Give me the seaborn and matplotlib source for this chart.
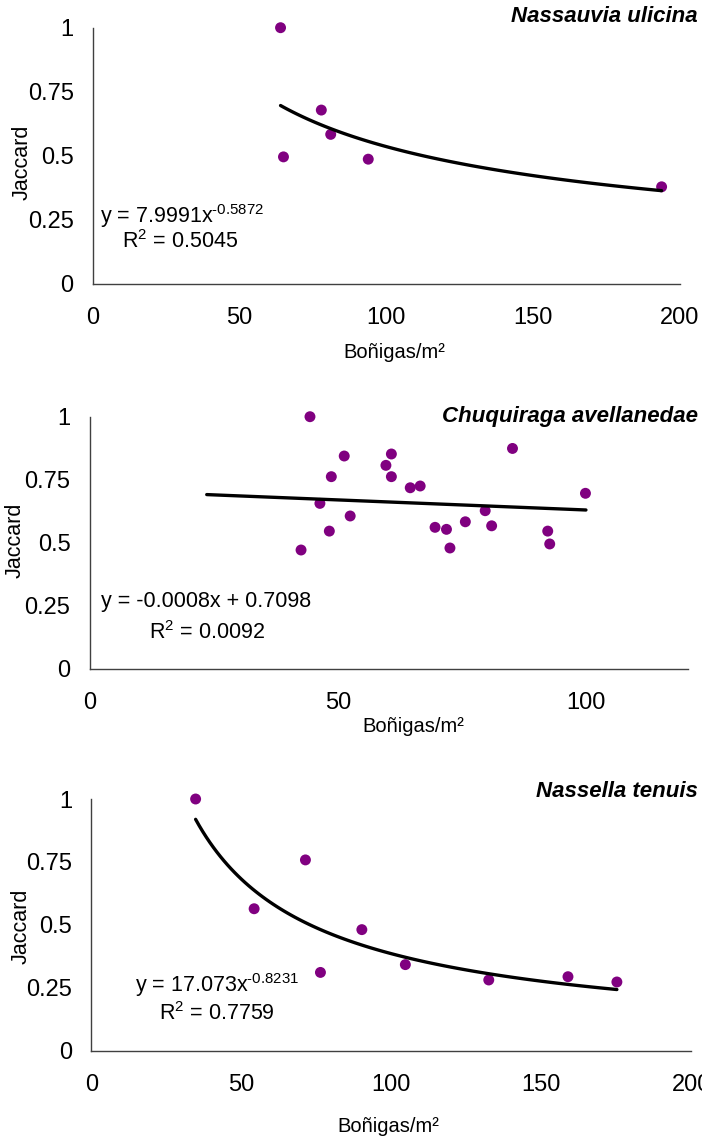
import numpy as np
import matplotlib
matplotlib.use('Agg')
import matplotlib.pyplot as plt
import seaborn as sns

# ---------------- data ----------------
# Nassauvia ulicina
nu_x = [64.0, 65.0, 77.9, 81.1, 93.9, 193.9]
nu_y = [1.0, 0.495, 0.678, 0.583, 0.486, 0.378]
nu_coef = (7.9991, -0.5872)      # power trendline y = a * x^b
nu_eq = ['y = 7.9991x$^{\u20100.5872}$', 'R$^2$ = 0.5045']

# Chuquiraga avellanedae
ca_x = [44.4, 42.6, 46.4, 48.3, 48.7, 51.3, 52.5, 59.7, 60.8, 60.8, 64.6,
        66.6, 69.6, 71.9, 72.6, 75.7, 79.7, 81.0, 85.2, 92.3, 92.7, 99.9]
ca_y = [1.0, 0.471, 0.656, 0.546, 0.762, 0.844, 0.606, 0.807, 0.852, 0.762, 0.718,
        0.725, 0.561, 0.553, 0.479, 0.583, 0.627, 0.567, 0.874, 0.546, 0.495, 0.696]
ca_coef = (-0.0008, 0.7098)      # linear trendline y = m * x + c
ca_fit_range = (23.6, 100.0)     # excel trendline incl. backward forecast
ca_eq = ['y = -0.0008x + 0.7098', 'R$^2$ = 0.0092']

# Nassella tenuis
nt_x = [34.8, 54.3, 71.4, 76.4, 90.2, 104.7, 132.5, 158.9, 175.2]
nt_y = [1.0, 0.564, 0.758, 0.311, 0.481, 0.342, 0.281, 0.294, 0.273]
nt_coef = (17.073, -0.8231)
nt_eq = ['y = 17.073x$^{\u20100.8231}$', 'R$^2$ = 0.7759']

titles = ['Nassauvia ulicina', 'Chuquiraga avellanedae', 'Nassella tenuis']
y_ticks = [0, 0.25, 0.5, 0.75, 1]
y_ticklabels = ['0', '0.25', '0.5', '0.75', '1']
x_label = 'Boñigas/m²'
y_label = 'Jaccard'

# ---------------- style ----------------
sns.set_style('white')
plt.rcParams['font.family'] = ['Liberation Sans', 'DejaVu Sans']
plt.rcParams['mathtext.fontset'] = 'custom'
plt.rcParams['mathtext.rm'] = 'Liberation Sans'
plt.rcParams['mathtext.it'] = 'Liberation Sans:italic'
plt.rcParams['mathtext.default'] = 'regular'
for k in ['text.color', 'axes.labelcolor', 'xtick.color', 'ytick.color']:
    plt.rcParams[k] = 'black'

W, H = 702, 1137
fig = plt.figure(figsize=(W / 100, H / 100), dpi=100)
fig.patch.set_facecolor('white')

PURPLE = '#800080'
AXIS_C = '#404040'


def px_rect(left, top, right, bottom):
    """axes rect from pixel edges"""
    return [left / W, 1 - bottom / H, (right - left) / W, (bottom - top) / H]


def fpos(x, y):
    return x / W, 1 - y / H


def style_axes(ax, xlim, xticks, ylab_xy, xlab_xy):
    ax.set_xlim(*xlim)
    ax.set_ylim(0, 1)
    ax.set_xticks(xticks)
    ax.set_xticklabels([str(t) for t in xticks])
    ax.set_yticks(y_ticks)
    ax.set_yticklabels(y_ticklabels)
    for s in ['top', 'right']:
        ax.spines[s].set_visible(False)
    for s in ['left', 'bottom']:
        ax.spines[s].set_color(AXIS_C)
        ax.spines[s].set_linewidth(1.0)
    ax.tick_params(axis='both', direction='out', length=5.8, width=1.0,
                   color=AXIS_C, labelsize=17, labelcolor='black')
    ax.tick_params(axis='x', pad=11)
    ax.tick_params(axis='y', pad=8)
    ax.set_xlabel(x_label, fontsize=14.5)
    ax.set_ylabel(y_label, fontsize=15.5)
    ax.yaxis.set_label_coords(*ylab_xy)
    ax.xaxis.set_label_coords(*xlab_xy)
    ax.grid(False)


def draw_points(ax, x, y):
    sns.scatterplot(x=x, y=y, ax=ax, s=62, color=PURPLE, edgecolor='none',
                    linewidth=0, zorder=3, clip_on=False)


def draw_line(ax, xs, ys):
    sns.lineplot(x=xs, y=ys, ax=ax, color='black', lw=2.4, zorder=4,
                 estimator=None, sort=False)


# ---------------- panel 1 ----------------
ax1 = fig.add_axes(px_rect(92.8, 27.7, 679.5, 283.5))
draw_points(ax1, nu_x, nu_y)
xs = np.linspace(min(nu_x), max(nu_x), 120)
draw_line(ax1, xs, nu_coef[0] * xs ** nu_coef[1])
style_axes(ax1, (0, 200), [0, 50, 100, 150, 200], (-0.102, 0.473), (0.514, -0.233))

# ---------------- panel 2 ----------------
ax2 = fig.add_axes(px_rect(89.6, 416.7, 687.7, 668.7))
draw_points(ax2, ca_x, ca_y)
xs = np.linspace(ca_fit_range[0], ca_fit_range[1], 50)
draw_line(ax2, xs, ca_coef[0] * xs + ca_coef[1])
style_axes(ax2, (0, 120.5), [0, 50, 100], (-0.107, 0.51), (0.541, -0.19))

# ---------------- panel 3 ----------------
ax3 = fig.add_axes(px_rect(91.2, 799.0, 691.3, 1050.7))
draw_points(ax3, nt_x, nt_y)
xs = np.linspace(min(nt_x), max(nt_x), 120)
draw_line(ax3, xs, nt_coef[0] * xs ** nt_coef[1])
style_axes(ax3, (0, 200), [0, 50, 100, 150, 200], (-0.0997, 0.496), (0.495, -0.263))

# ---------------- titles ----------------
for title, ty in zip(titles, [16.7, 416.5, 791.7]):
    fig.text(*fpos(698, ty), title, ha='right', va='center', fontsize=16,
             fontweight='bold', fontstyle='italic')

# ---------------- equations ----------------
eq_pos = [((100, 216), (122, 242)),
          ((100.7, 601.7), (149, 632.7)),
          ((134.6, 985.5), (159.3, 1014))]
for eqs, pos in zip([nu_eq, ca_eq, nt_eq], eq_pos):
    for txt, (x, y) in zip(eqs, pos):
        fig.text(*fpos(x, y), txt, ha='left', va='center', fontsize=15.5)

fig.savefig('out.png', dpi=100, facecolor='white')
